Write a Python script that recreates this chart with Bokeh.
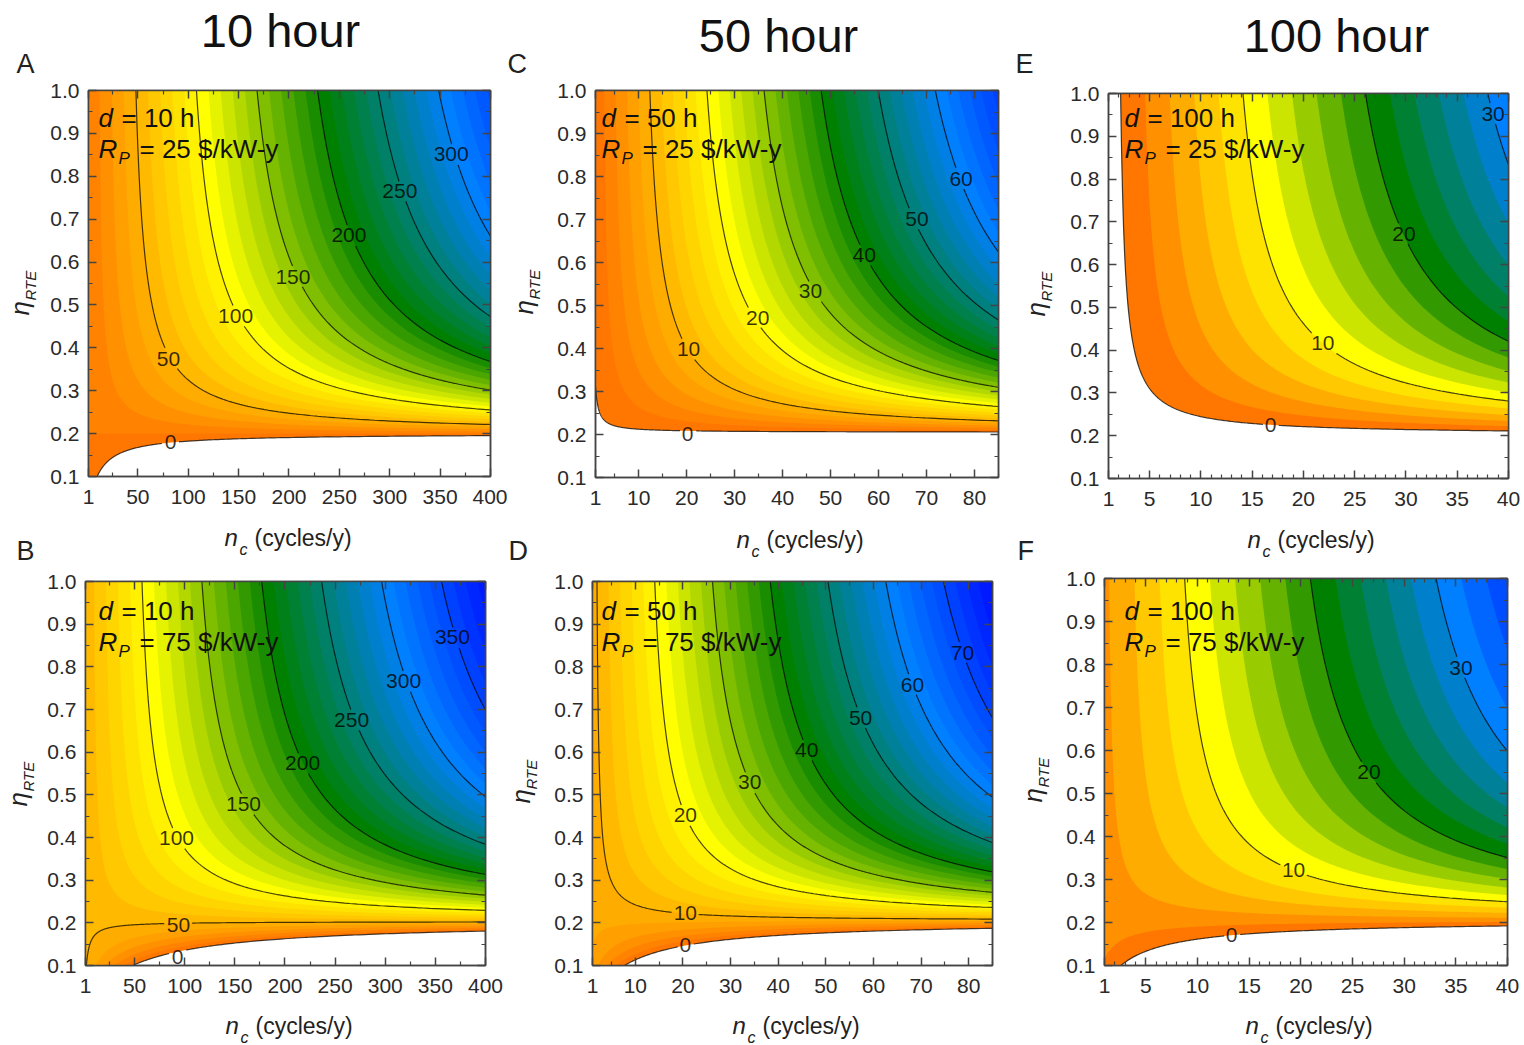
import math
import numpy as np
from bokeh.core.properties import value
from bokeh.embed import file_html
from bokeh.layouts import column, row
from bokeh.models import FixedTicker, LinearAxis, NumeralTickFormatter, Range1d
from bokeh.plotting import figure
from bokeh.plotting.contour import contour_data
from bokeh.resources import INLINE

FONT = "Liberation Sans"

ETA_ROWS = [1.0, 0.8, 0.6, 0.5, 0.4, 0.3, 0.25, 0.2, 0.15, 0.1]

A_NC = [1, 200, 400]
A_Z = [[10.83, 176.4, 342.8], [10.78, 166.0, 322.0], [10.69, 148.7, 287.3], [10.62, 134.8, 259.6],
       [10.52, 114.0, 218.0], [10.35, 79.3, 148.7], [10.21, 51.6, 93.2], [10.0, 10.0, 10.0],
       [9.65, -59.3, -128.7], [8.96, -198.0, -406.0]]
B_NC = [1, 200, 400]
B_Z = [[52.84, 219.4, 386.7], [52.78, 208.7, 365.4], [52.69, 191.0, 329.9], [52.62, 176.7, 301.5],
       [52.52, 155.4, 258.9], [52.34, 119.9, 187.8], [52.2, 91.5, 131.0], [51.98, 48.9, 45.7],
       [51.63, -22.2, -96.4], [50.92, -164.3, -380.6]]
C_NC = [1, 43, 85]
C_Z = [[0.48, 35.77, 71.07], [0.43, 33.45, 66.47], [0.34, 29.56, 58.79], [0.26, 26.46, 52.65],
       [0.16, 21.8, 43.44], [-0.03, 14.03, 28.1], [-0.17, 7.82, 15.81], [-0.39, -1.5, -2.61],
       [-0.75, -17.03, -33.3], [-1.47, -48.08, -94.7]]
D_NC = [1, 43, 85]
D_Z = [[9.22, 43.85, 78.48], [9.17, 41.57, 73.97], [9.08, 37.75, 66.43], [9.01, 34.71, 60.41],
       [8.91, 30.14, 51.37], [8.73, 22.52, 36.32], [8.59, 16.43, 24.27], [8.37, 7.29, 6.2],
       [8.02, -7.95, -23.92], [7.31, -38.42, -84.16]]
E_NC = [1, 20, 40]
E_Z = [[-0.99, 14.93, 31.69], [-1.05, 13.87, 29.57], [-1.13, 12.1, 26.03], [-1.2, 10.69, 23.2],
       [-1.31, 8.57, 18.96], [-1.49, 5.03, 11.89], [-1.63, 2.2, 6.23], [-1.84, -2.04, -2.25],
       [-2.19, -9.11, -16.39], [-2.9, -23.25, -44.67]]
F_NC = [1, 20, 40]
F_Z = [[3.62, 19.24, 35.68], [3.57, 18.18, 33.56], [3.48, 16.41, 30.03], [3.41, 15.0, 27.2],
       [3.3, 12.88, 22.96], [3.13, 9.35, 15.9], [2.99, 6.52, 10.24], [2.77, 2.28, 1.77],
       [2.42, -4.78, -12.37], [1.71, -18.91, -40.63]]

# Contour labels: text, nc, eta
A_LABELS = [("0", 82.4, .1816), ("50", 80.4, .375), ("100", 147, .475), ("150", 203.9, .566),
            ("200", 259.5, .662), ("250", 310, .765), ("300", 361, .851)]
B_LABELS = [("0", 92.8, .121), ("50", 93.8, .1938), ("100", 91.8, .398), ("150", 158.6, .478),
            ("200", 217.5, .574), ("250", 266.4, .675), ("300", 318.3, .766), ("350", 367, .869)]
C_LABELS = [("0", 20.2, .2012), ("10", 20.4, .3977), ("20", 34.8, .472), ("30", 45.8, .5326),
            ("40", 57, .6163), ("50", 68, .7023), ("60", 77.2, .795)]
D_LABELS = [("0", 20.5, .147), ("10", 20.5, .2242), ("20", 20.5, .4516), ("30", 34, .529),
            ("40", 46, .604), ("50", 57.3, .681), ("60", 68.2, .7585), ("70", 78.7, .8335)]
E_LABELS = [("0", 16.8, .2239), ("10", 21.9, .4156), ("20", 29.8, .6727), ("30", 38.5, .953)]
F_LABELS = [("0", 13.3, .172), ("10", 19.3, .321), ("20", 26.6, .549), ("30", 35.5, .793)]

X_TICKS_10H = [1, 50, 100, 150, 200, 250, 300, 350, 400]
X_MINOR_10H = [25, 75, 125, 175, 225, 275, 325, 375]
X_TICKS_50H = [1, 10, 20, 30, 40, 50, 60, 70, 80]
X_MINOR_50H = [5, 15, 25, 35, 45, 55, 65, 75, 85]
X_TICKS_100H = [1, 5, 10, 15, 20, 25, 30, 35, 40]
X_MINOR_100H = [2, 3, 4, 6, 7, 8, 9, 11, 12, 13, 14, 16, 17, 18, 19, 21, 22, 23, 24, 26, 27, 28, 29,
                31, 32, 33, 34, 36, 37, 38, 39]
Y_TICKS = [0.1, 0.2, 0.3, 0.4, 0.5, 0.6, 0.7, 0.8, 0.9, 1.0]
Y_MINOR = [0.15, 0.25, 0.35, 0.45, 0.55, 0.65, 0.75, 0.85, 0.95]

# Colour stops on the surface scale of the 100 h panels (multiplied per panel)
STOP_Z = [0, 10, 20, 30, 40]
STOP_R = [255, 255, 0, 0, 0]
STOP_G = [118, 255, 128, 128, 0]
STOP_B = [0, 0, 0, 255, 255]

MID = 0.36  # half the height of a capital, in ems


def band_color(lv, mult):
    t = lv / mult
    return "#%02x%02x%02x" % (int(np.interp(t, STOP_Z, STOP_R)),
                              int(np.interp(t, STOP_Z, STOP_G)),
                              int(np.interp(t, STOP_Z, STOP_B)))


def surface(nc_cols, z_rows, xmax):
    z_rows = np.array(z_rows, float)
    u_rows = 1.0 / np.array(ETA_ROWS)
    x = np.geomspace(1, xmax, 320)
    y = np.linspace(0.1, 1.0, 520)
    cols = np.column_stack([np.interp(1.0 / y, u_rows, z_rows[:, j]) for j in range(z_rows.shape[1])])
    z = np.array([np.interp(x, nc_cols, r) for r in cols])
    return x, y, z


def text_fig(x0, y0, x1, y1, items):
    """A figure with no axes, whose range is the page area it covers; holds the texts around the panels."""
    p = figure(width=x1 - x0, height=y1 - y0, output_backend="svg", toolbar_location=None,
               x_range=Range1d(x0, x1), y_range=Range1d(y1, y0), x_axis_type=None, y_axis_type=None,
               min_border=0, tools="", frame_align=False)
    p.grid.visible = False
    p.outline_line_color = None
    for it in items:
        px, py, text, size = it[:4]
        style = it[4] if len(it) > 4 else "normal"
        color = it[5] if len(it) > 5 else "#222222"
        align = it[6] if len(it) > 6 else "left"
        angle = it[7] if len(it) > 7 else 0
        if angle:
            px = px - MID * size
        else:
            py = py - MID * size
        p.text(x=[px], y=[py], text=[text], text_font=value(FONT), text_font_size=f"{size}px",
               text_font_style=style, text_color=color, text_align=align,
               text_baseline="middle", angle=angle)
    return p


def panel(tile, frame, xmax, nc_cols, z_rows, step, mult, line_levels, labels,
          xticks, xminor, dur, rp, text_pos):
    tx0, ty0, tx1, ty1 = tile
    fl, ft, fr, fb = frame
    p = figure(width=tx1 - tx0, height=ty1 - ty0, output_backend="svg", toolbar_location=None,
               x_range=Range1d(1, xmax), y_range=Range1d(0.1, 1.0),
               min_border_left=fl - tx0, min_border_right=tx1 - fr,
               min_border_top=ft - ty0, min_border_bottom=ty1 - fb,
               x_axis_type=None, y_axis_type=None, tools="", frame_align=False)
    p.grid.visible = False
    p.outline_line_color = "#444444"
    p.outline_line_width = 1.5
    p.background_fill_color = "white"

    x, y, z = surface(nc_cols, z_rows, xmax)
    top = float(z.max()) + 1
    # each band is drawn from its own lower level up to the top, so that no seams show between bands
    for lv in np.arange(0, top, step):
        p.contour(x, y, z, levels=[float(lv), top], fill_color=[band_color(lv, mult)], line_color=None)

    # contour lines, with gaps where their labels sit
    px_x = (fr - fl) / (xmax - 1)
    px_y = (fb - ft) / 0.9
    xs, ys = [], []
    cd = contour_data(x, y, z, line_levels + [line_levels[-1] + 1e6], want_fill=False, want_line=True)
    for lx, ly in zip(cd.line_data.xs, cd.line_data.ys):
        lx, ly = np.array(lx, float), np.array(ly, float)
        for txt, cx, cy in labels:
            hw = len(txt) * 5.8 + 1.5
            mask = (np.abs(lx - cx) * px_x < hw) & (np.abs(ly - cy) * px_y < 10)
            lx = np.where(mask, np.nan, lx)
            ly = np.where(mask, np.nan, ly)
        xs.append(lx)
        ys.append(ly)
    p.multi_line(xs, ys, line_color="#000000", line_alpha=0.72, line_width=1.2)

    p.text(x=[l[1] for l in labels], y=[l[2] for l in labels], text=[l[0] for l in labels],
           text_font=value(FONT), text_font_size="21px", text_align="center",
           text_baseline="middle", text_color="#000000", text_alpha=0.78)

    for side, show, ticks, minor in (("below", True, xticks, xminor), ("above", False, xticks, xminor),
                                     ("left", True, Y_TICKS, Y_MINOR), ("right", False, Y_TICKS, Y_MINOR)):
        ax = LinearAxis(ticker=FixedTicker(ticks=ticks, minor_ticks=minor))
        ax.major_tick_in = 8
        ax.major_tick_out = 0
        ax.minor_tick_in = 4
        ax.minor_tick_out = 0
        for a in ("axis_line_color", "major_tick_line_color", "minor_tick_line_color"):
            setattr(ax, a, "#444444")
        ax.axis_line_width = 1.5
        ax.major_tick_line_width = 1.5
        ax.minor_tick_line_width = 1.2
        ax.major_label_text_font = FONT
        ax.major_label_text_color = "#2a2a2a"
        if show:
            ax.major_label_text_font_size = "21px"
            ax.major_label_standoff = 13 if side == "below" else 9
            if side == "left":
                ax.formatter = NumeralTickFormatter(format="0.0")
                ax.major_label_orientation = "horizontal"
        else:
            ax.major_label_overrides = {t: "" for t in ticks}
            ax.major_label_standoff = 0
        p.add_layout(ax, side)

    # the texts inside the frame
    tx, y1_, y2_ = text_pos
    sx = lambda v: 1 + (v - fl) / px_x
    sy = lambda v: 0.1 + (fb - v) / px_y
    for px, py, text, size, style in ((tx, y1_, "d", 26, "italic"), (tx + 23, y1_, dur, 26, "normal"),
                                      (tx, y2_, "R", 26, "italic"), (tx + 20, y2_ + 6, "P", 17, "italic"),
                                      (tx + 41, y2_, rp, 26, "normal")):
        p.text(x=[sx(px)], y=[sy(py - MID * size)], text=[text], text_font=value(FONT),
               text_font_size=f"{size}px", text_font_style=style, text_color="#111111",
               text_baseline="middle")
    return p


def nc_label(nx, nb):
    return [(nx, nb, "n", 24, "italic"), (nx + 15, nb + 9, "c", 16, "italic"), (nx + 30, nb, "(cycles/y)", 23)]


def eta_label(x1, y1, x2, y2):
    up = math.pi / 2
    return [(x1, y1, "η", 26, "italic", "#222222", "left", up), (x2, y2, "RTE", 15, "italic", "#222222", "left", up)]


Y0, Y1, Y2, Y3, Y4 = 0, 79, 512, 566, 1005
H = 1045
W = 1524
X1, X2 = 507, 1012

header = text_fig(0, Y0, W, Y1, [
    (280, 47, "10 hour", 47, "normal", "#111111", "center"),
    (778, 52, "50 hour", 47, "normal", "#111111", "center"),
    (1336, 52, "100 hour", 47, "normal", "#111111", "center"),
    (16, 73, "A", 27), (507, 73, "C", 27), (1015, 73, "E", 27)])
middle = text_fig(0, Y2, W, Y3, nc_label(224, 546) + nc_label(736, 548) + nc_label(1247, 548) + [
    (16, 560, "B", 27), (508, 560, "D", 27), (1017, 560, "F", 27)])
footer = text_fig(0, Y4, W, H, nc_label(225, 1034) + nc_label(732, 1034) + nc_label(1245, 1034))

sA = text_fig(0, Y1, 46, Y2, eta_label(29, 315, 35, 300))
sC = text_fig(X1, Y1, 547, Y2, eta_label(533, 314, 539, 299))
sE = text_fig(X2, Y1, 1056, Y2, eta_label(1045, 316, 1051, 301))
sB = text_fig(0, Y3, 44, Y4, eta_label(27, 806, 33, 791))
sD = text_fig(X1, Y3, 545, Y4, eta_label(530, 803, 536, 789))
sF = text_fig(X2, Y3, 1053, Y4, eta_label(1042, 802, 1048, 787))

pA = panel((46, Y1, X1, Y2), (88, 90, 490, 476), 400, A_NC, A_Z, 10, 10, [0, 50, 100, 150, 200, 250, 300],
           A_LABELS, X_TICKS_10H, X_MINOR_10H, "= 10 h", "= 25 $/kW-y", (98, 127, 158))
pC = panel((547, Y1, X2, Y2), (595, 90, 998, 477), 85, C_NC, C_Z, 2, 2, [0, 10, 20, 30, 40, 50, 60],
           C_LABELS, X_TICKS_50H, X_MINOR_50H, "= 50 h", "= 25 $/kW-y", (601, 127, 158))
pE = panel((1056, Y1, W, Y2), (1108, 93, 1508, 478), 40, E_NC, E_Z, 2, 1, [0, 10, 20, 30],
           E_LABELS, X_TICKS_100H, X_MINOR_100H, "= 100 h", "= 25 $/kW-y", (1124, 127, 158))
pB = panel((44, Y3, X1, Y4), (85, 581, 485, 965), 400, B_NC, B_Z, 10, 10, [0, 50, 100, 150, 200, 250, 300, 350],
           B_LABELS, X_TICKS_10H, X_MINOR_10H, "= 10 h", "= 75 $/kW-y", (98, 620, 651))
pD = panel((545, Y3, X2, Y4), (592, 581, 992, 965), 85, D_NC, D_Z, 2, 2, [0, 10, 20, 30, 40, 50, 60, 70],
           D_LABELS, X_TICKS_50H, X_MINOR_50H, "= 50 h", "= 75 $/kW-y", (601, 620, 651))
pF = panel((1053, Y3, W, Y4), (1104, 578, 1507, 965), 40, F_NC, F_Z, 2, 1, [0, 10, 20, 30],
           F_LABELS, X_TICKS_100H, X_MINOR_100H, "= 100 h", "= 75 $/kW-y", (1124, 620, 651))

layout = column(header,
                row(sA, pA, sC, pC, sE, pE, spacing=0),
                middle,
                row(sB, pB, sD, pD, sF, pF, spacing=0),
                footer, spacing=0)
open("out.html", "w").write(file_html(layout, INLINE))
